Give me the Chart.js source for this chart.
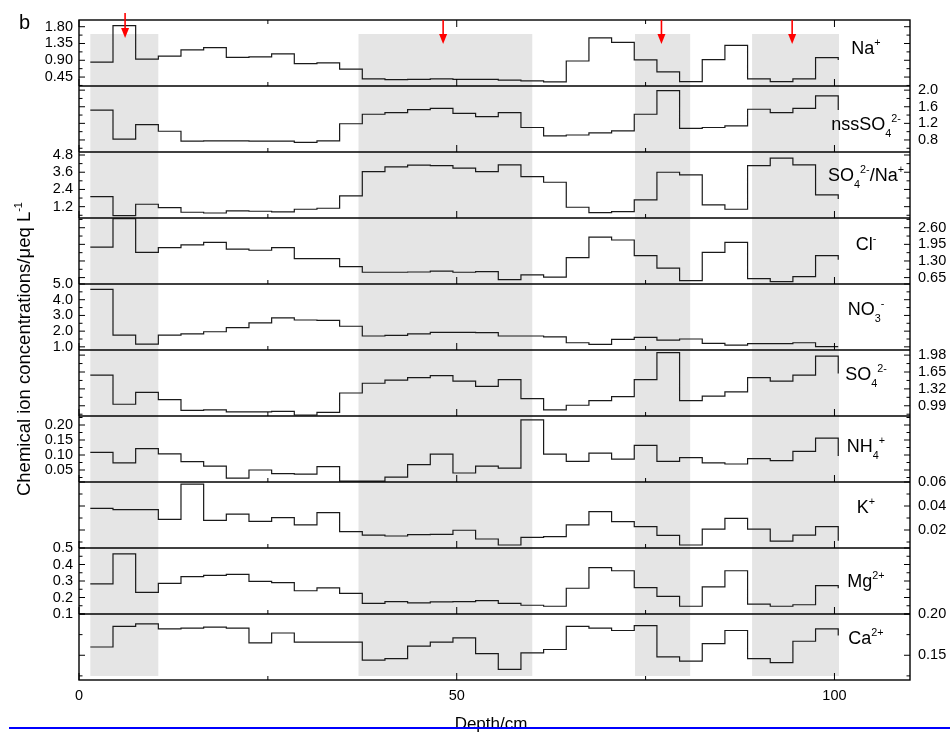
<!DOCTYPE html>
<html>
<head>
<meta charset="utf-8">
<script src="https://cdn.jsdelivr.net/npm/chart.js@4.4.1/dist/chart.umd.min.js"></script>
<style>
  body { margin: 0; background: #fff; }
</style>
</head>
<body>
<canvas id="chart" width="950" height="733"></canvas>
<script>
// sample boundaries (cm); each value is held until the next boundary
const depth = [1.5, 4.5, 7.5, 10.5, 13.5, 16.5, 19.5, 22.5, 25.5, 28.5, 31.5, 34.5, 37.5, 40.5, 43.5, 46.5, 49.5,
               52.5, 55.5, 58.5, 61.5, 64.5, 67.5, 70.5, 73.5, 76.5, 79.5, 82.5, 85.5, 88.5, 91.5, 94.5, 97.5, 100.5];

const na     = [0.85, 1.83, 0.93, 1.01, 1.18, 1.24, 0.98, 0.99, 1.07, 0.81, 0.83, 0.66, 0.40, 0.38, 0.39, 0.40, 0.39,
                0.39, 0.37, 0.35, 0.32, 0.88, 1.50, 1.38, 0.91, 0.59, 0.33, 0.92, 1.30, 0.40, 0.33, 0.40, 0.97, 0.91];
const nssSO4 = [1.52, 0.82, 1.17, 1.01, 0.77, 0.78, 0.78, 0.77, 0.77, 0.74, 0.78, 1.19, 1.42, 1.46, 1.53, 1.56, 1.44,
                1.36, 1.46, 1.10, 0.90, 0.92, 0.97, 1.02, 1.42, 1.99, 1.08, 1.10, 1.14, 1.54, 1.46, 1.56, 1.86, 1.52];
const so4Na  = [1.90, 0.57, 1.37, 1.13, 0.81, 0.76, 0.90, 0.88, 0.83, 1.02, 1.09, 1.95, 3.64, 3.97, 4.09, 4.06, 3.88,
                3.64, 4.11, 3.29, 2.90, 1.16, 0.78, 0.85, 1.67, 3.60, 3.41, 1.32, 1.02, 4.06, 4.58, 4.11, 2.02, 1.74];
const cl     = [1.84, 2.95, 1.64, 1.82, 1.93, 2.03, 1.76, 1.72, 1.82, 1.39, 1.39, 1.08, 0.86, 0.86, 0.87, 0.90, 0.86,
                0.88, 0.57, 0.76, 0.67, 1.43, 2.23, 2.12, 1.51, 1.02, 0.53, 1.64, 2.03, 0.61, 0.49, 0.69, 1.51, 1.35];
const no3    = [4.66, 1.75, 1.18, 1.75, 1.82, 1.96, 2.22, 2.52, 2.85, 2.71, 2.69, 2.31, 1.69, 1.73, 1.83, 1.92, 1.92,
                1.90, 1.69, 1.69, 1.64, 1.26, 1.16, 1.48, 1.60, 1.43, 1.50, 1.22, 1.11, 1.20, 1.20, 1.26, 1.01, 1.01];
const so4    = [1.59, 1.02, 1.25, 1.11, 0.90, 0.91, 0.87, 0.87, 0.88, 0.81, 0.86, 1.24, 1.43, 1.49, 1.54, 1.58, 1.47,
                1.37, 1.50, 1.13, 0.91, 1.00, 1.09, 1.17, 1.50, 2.03, 1.09, 1.18, 1.26, 1.54, 1.47, 1.59, 1.96, 1.62];
const nh4    = [0.109, 0.074, 0.121, 0.104, 0.078, 0.063, 0.023, 0.050, 0.038, 0.036, 0.061, 0.013, 0.013, 0.026, 0.068, 0.103, 0.040,
                0.063, 0.056, 0.217, 0.103, 0.079, 0.106, 0.086, 0.132, 0.079, 0.091, 0.074, 0.070, 0.088, 0.081, 0.112, 0.156, 0.097];
const k      = [0.0381, 0.0369, 0.0369, 0.0289, 0.0583, 0.0281, 0.0333, 0.0272, 0.0303, 0.0242, 0.0345, 0.0186, 0.0158, 0.0150, 0.0161, 0.0164, 0.0198,
                0.0125, 0.0075, 0.0139, 0.0145, 0.0242, 0.0353, 0.0269, 0.0228, 0.0156, 0.0075, 0.0208, 0.0297, 0.0208, 0.0108, 0.0158, 0.0228, 0.0110];
const mg     = [0.282, 0.465, 0.231, 0.286, 0.326, 0.334, 0.340, 0.298, 0.290, 0.241, 0.258, 0.225, 0.165, 0.175, 0.167, 0.173, 0.175,
                0.181, 0.165, 0.153, 0.147, 0.256, 0.381, 0.362, 0.260, 0.207, 0.147, 0.265, 0.362, 0.160, 0.147, 0.156, 0.272, 0.256];
const ca     = [0.160, 0.185, 0.188, 0.182, 0.183, 0.184, 0.183, 0.165, 0.177, 0.166, 0.166, 0.166, 0.144, 0.146, 0.161, 0.166, 0.171,
                0.152, 0.133, 0.153, 0.157, 0.185, 0.183, 0.180, 0.186, 0.148, 0.143, 0.164, 0.180, 0.146, 0.141, 0.167, 0.182, 0.174];

const series = [na, nssSO4, so4Na, cl, no3, so4, nh4, k, mg, ca];

// panel names: [text, 'sub' | 'sup' | undefined]
const ionLabels = [
  [['Na'], ['+', 'sup']],
  [['nssSO'], ['4', 'sub'], ['2-', 'sup']],
  [['SO'], ['4', 'sub'], ['2-', 'sup'], ['/Na'], ['+', 'sup']],
  [['Cl'], ['-', 'sup']],
  [['NO'], ['3', 'sub'], ['-', 'sup']],
  [['SO'], ['4', 'sub'], ['2-', 'sup']],
  [['NH'], ['4', 'sub'], ['+', 'sup']],
  [['K'], ['+', 'sup']],
  [['Mg'], ['2+', 'sup']],
  [['Ca'], ['2+', 'sup']]
];

// axis ranges and tick steps of each panel
const yMin      = [0.21, 0.51, 0.41, 0.40, 0.8, 0.79, 0.01, 0.005, 0.1, 0.12];
const yMax      = [1.98, 2.10, 5.01, 2.98, 5.0, 2.08, 0.23, 0.06, 0.5, 0.20];
const majorStep = [0.45, 0.4, 1.2, 0.65, 1.0, 0.33, 0.05, 0.02, 0.1, 0.05];
const minorStep = [0.225, 0.2, 0.6, 0.325, 0.5, 0.165, 0.025, 0.01, 0.05, 0.025];
const decimals  = [2, 1, 1, 2, 1, 2, 2, 2, 1, 2];

const shadeZones  = [[1.5, 10.5], [37, 60], [73.6, 80.9], [89.1, 100.6]];
const arrowDepths = [6.1, 48.2, 77.1, 94.4];

const FONT = "'Liberation Sans', Arial, sans-serif";
Chart.defaults.font.family = FONT;
Chart.defaults.color = '#000';

const isMajor = (v, step) => Math.abs(v / step - Math.round(v / step)) < 1e-6;

const scales = {
  x: {
    type: 'linear',
    position: 'bottom',
    min: 0,
    max: 110,
    grid: { display: false, drawTicks: false },
    border: { display: false },
    ticks: {
      stepSize: 25,
      includeBounds: false,
      autoSkip: false,
      maxRotation: 0,
      padding: 7,
      font: { size: 14.5 },
      callback: (v) => (v % 50 === 0 ? String(v) : '')
    },
    afterFit: (s) => { s.height = 53; }
  }
};

series.forEach((_, i) => {
  const base = {
    type: 'linear',
    min: yMin[i],
    max: yMax[i],
    stackWeight: 1,
    grid: { display: false, drawTicks: false },
    border: { display: false }
  };
  const tickOpts = (show, pad) => ({
    stepSize: minorStep[i],
    includeBounds: false,
    autoSkip: false,
    padding: pad,
    font: { size: 14.5 },
    callback: (v) => (show && isMajor(v, majorStep[i]) ? v.toFixed(decimals[i]) : '')
  });
  scales['L' + i] = {
    ...base,
    position: 'left',
    stack: 'left',
    weight: 20 - i,
    ticks: tickOpts(i % 2 === 0, 6),
    afterFit: (s) => { s.width = 79; }
  };
  scales['R' + i] = {
    ...base,
    position: 'right',
    stack: 'right',
    weight: i + 1,
    ticks: tickOpts(i % 2 === 1, 8),
    afterFit: (s) => { s.width = 40; }
  };
});

function line(ctx, x0, y0, x1, y1) {
  ctx.beginPath();
  ctx.moveTo(x0, y0);
  ctx.lineTo(x1, y1);
  ctx.stroke();
}

// draws text with sub/superscripts starting at x, baseline y; returns width
function drawRich(ctx, parts, x, y, size, measureOnly) {
  let cx = x;
  parts.forEach(([t, kind]) => {
    const fs = kind ? size * 0.6 : size;
    ctx.font = fs + 'px ' + FONT;
    const dy = kind === 'sup' ? -size * 0.45 : kind === 'sub' ? size * 0.38 : 0;
    if (!measureOnly) ctx.fillText(t, cx, y + dy);
    cx += ctx.measureText(t).width;
  });
  return cx - x;
}

const labelDy = [28, 38, 23, 26, 25, 24, 30, 25, 33, 24];

const panelDecor = {
  id: 'panelDecor',
  beforeDatasetsDraw(chart) {
    const { ctx, chartArea: a } = chart;
    const x = chart.scales.x;
    ctx.save();
    ctx.fillStyle = '#e5e5e5';
    shadeZones.forEach(([s, e]) => {
      const x0 = x.getPixelForValue(s);
      const x1 = x.getPixelForValue(e);
      ctx.fillRect(x0, a.top + 14, x1 - x0, a.height - 18);
    });
    ctx.restore();
  },
  afterDatasetsDraw(chart) {
    const { ctx, chartArea: a } = chart;
    const x = chart.scales.x;
    ctx.save();
    ctx.strokeStyle = '#000';

    series.forEach((_, i) => {
      const s = chart.scales['L' + i];
      ctx.lineWidth = 1;
      s.ticks.forEach((t) => {
        const y = s.getPixelForValue(t.value);
        const len = isMajor(t.value, majorStep[i]) ? 6 : 3.5;
        line(ctx, a.left, y, a.left + len, y);
        line(ctx, a.right, y, a.right - len, y);
      });
      x.ticks.forEach((t) => {
        const px = x.getPixelForValue(t.value);
        const len = t.value % 50 === 0 ? 7 : 4;
        line(ctx, px, s.bottom, px, s.bottom - len);
        if (i === 0) line(ctx, px, s.top, px, s.top + len);
      });
      ctx.lineWidth = 1.4;
      if (i > 0) line(ctx, a.left, s.top, a.right, s.top);

      // ion name
      ctx.fillStyle = '#000';
      ctx.textBaseline = 'alphabetic';
      ctx.textAlign = 'left';
      const w = drawRich(ctx, ionLabels[i], 0, 0, 18, true);
      drawRich(ctx, ionLabels[i], 866 - w / 2, s.top + labelDy[i] + 6, 18);
    });

    ctx.lineWidth = 1.4;
    ctx.strokeRect(a.left, a.top, a.width, a.height);

    // red arrows
    ctx.strokeStyle = '#ff0000';
    ctx.fillStyle = '#ff0000';
    ctx.lineWidth = 1.6;
    arrowDepths.forEach((d, j) => {
      const px = x.getPixelForValue(d);
      const y0 = j === 0 ? a.top - 7 : a.top;
      const tip = j === 0 ? a.top + 18 : a.top + 24;
      line(ctx, px, y0, px, tip - 8);
      ctx.beginPath();
      ctx.moveTo(px - 4, tip - 10);
      ctx.lineTo(px + 4, tip - 10);
      ctx.lineTo(px, tip);
      ctx.closePath();
      ctx.fill();
    });

    // texts outside the plot
    ctx.fillStyle = '#000';
    ctx.textAlign = 'left';
    ctx.font = '20px ' + FONT;
    ctx.fillText('b', 19, 29);

    ctx.textAlign = 'center';
    ctx.font = '17px ' + FONT;
    ctx.fillText('Depth/cm', 491, 729);

    ctx.save();
    ctx.translate(30, 349);
    ctx.rotate(-Math.PI / 2);
    ctx.textAlign = 'left';
    const title = [['Chemical ion concentrations/\u03bceq L'], ['-1', 'sup']];
    const tw = drawRich(ctx, title, 0, 0, 18.5, true);
    drawRich(ctx, title, -tw / 2, 0, 18.5);
    ctx.restore();

    ctx.strokeStyle = '#0000ff';
    ctx.lineWidth = 2.2;
    line(ctx, 9, 728, 950, 728);
    ctx.restore();
  }
};

new Chart(document.getElementById('chart'), {
  type: 'line',
  data: {
    datasets: series.map((vals, i) => ({
      data: depth.map((d, j) => ({ x: d, y: vals[j] })),
      xAxisID: 'x',
      yAxisID: 'L' + i,
      stepped: 'before',
      borderColor: '#1a1a1a',
      borderWidth: 1.2,
      pointRadius: 0,
      fill: false
    }))
  },
  options: {
    responsive: false,
    animation: false,
    devicePixelRatio: 1,
    layout: { padding: { top: 20, left: 0, right: 0, bottom: 0 } },
    plugins: { legend: { display: false }, tooltip: { enabled: false } },
    scales
  },
  plugins: [panelDecor]
});
</script>
</body>
</html>
